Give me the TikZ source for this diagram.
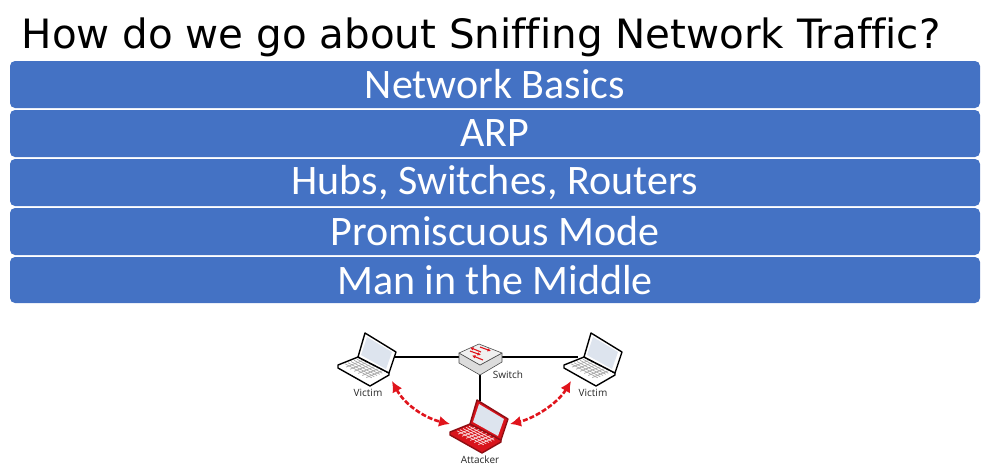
\documentclass[tikz,border=0pt]{standalone}
\usepackage{fontspec}
\setmainfont{Carlito}
\newfontfamily\titlefont[Ligatures=NoCommon]{DejaVu Sans}
\newfontfamily\smallfont{Open Sans}
\usetikzlibrary{arrows.meta,shapes.geometric,calc}
\definecolor{barblue}{HTML}{4472C4}
\definecolor{atkred}{HTML}{D8141C}
\definecolor{atkdark}{HTML}{8E0E14}
\definecolor{arrowred}{HTML}{E0141C}
\definecolor{screenblue}{HTML}{DDE4EE}
\definecolor{switchgrey}{HTML}{DCDCDC}
\definecolor{keygrey}{HTML}{A8A8A8}
\tikzset{
  x=1pt,y=-1pt,
  barbox/.style={fill=barblue,draw=none,rounded corners=5pt,minimum width=970pt,minimum height=47pt,inner sep=0pt,text=white,font=\fontsize{42}{42}\selectfont,anchor=center},
  titletext/.style={font=\titlefont\fontsize{40.4}{40}\selectfont,text=black,inner sep=0pt},
  smalltext/.style={font=\smallfont\fontsize{10}{10}\selectfont,text=black!85,inner sep=0pt},
  wire/.style={draw=black,line width=1.5pt},
  atklink/.style={draw=arrowred,line width=2.6pt,dash pattern=on 5pt off 2pt,{Latex[length=11pt,width=11pt]}-{Latex[length=11pt,width=11pt]}},
  switcharrow/.style={arrowred,line width=1.1pt,-{Latex[length=3.5pt,width=3.5pt]}},
  pics/laptop/.style args={#1/#2/#3/#4}{code={
    \filldraw[draw=#1,fill=#2,line width=1.4pt,line join=round] (-27,32) -- (-7,24) -- (24,40) -- (24,42) -- (5,53) -- (-27,35) -- cycle;
    \foreach \t in {0.17,0.33,0.5,0.67,0.83}{
      \draw[#3,line width=0.7pt] ($(-23,32)!\t!(-5,25)$) -- ($(4,46)!\t!(20,39)$);
    }
    \foreach \t in {0.15,0.3,0.45,0.6,0.75,0.9}{
      \draw[#3,line width=0.7pt] ($(-23,32)!\t!(4,46)$) -- ($(-5,25)!\t!(20,39)$);
    }
    \filldraw[draw=#1,fill=#4,line width=1.4pt,line join=round] (0,0) -- (31,19) -- (24,40) -- (-7,24) -- cycle;
    \fill[screenblue] (2,4) -- (27,19) -- (21,36) -- (-4,22) -- cycle;
  }}
}
\begin{document}
\begin{tikzpicture}
\useasboundingbox (0,0) rectangle (999,472);
\node[titletext,anchor=base] (title) at (481,48) {How do we go about Sniffing Network Traffic?};
\node[barbox] (b1) at (495,84.5) {Network Basics};
\node[barbox] (b2) at (495,133.5) {ARP};
\node[barbox] (b3) at (495,182.5) {Hubs, Switches, Routers};
\node[barbox] (b4) at (495,231.5) {Promiscuous Mode};
\node[barbox,minimum height=46pt] (b5) at (495,280) {Man in the Middle};

\coordinate (lv) at (393,357);
\coordinate (rv) at (578,357);
\coordinate (swl) at (459,357);
\coordinate (swr) at (502,357);
\coordinate (swb) at (480,375);
\coordinate (atk) at (480,401);
\draw[wire] (lv) -- (swl);
\draw[wire] (swr) -- (rv);
\draw[wire,line width=1.1pt] (swb) -- (atk);

\filldraw[draw=black!70,fill=switchgrey,line width=0.6pt,line join=round] (459,353) -- (480,365) -- (502,353) -- (502,362) -- (480,375) -- (459,363) -- cycle;
\filldraw[draw=black!70,fill=white!94!black,line width=0.6pt,line join=round] (459,353) -- (479,344) -- (502,353) -- (480,365) -- cycle;
\draw[switcharrow] (480,347) -- (491,351);
\draw[switcharrow] (481,352) -- (470,347.5);
\draw[switcharrow] (470,351) -- (481,355);
\draw[switcharrow] (483,360) -- (472,355.5);

\pic at (365,333) {laptop=black/white/keygrey/white};
\pic at (591,333) {laptop=black/white/keygrey/white};
\pic at (477,400) {laptop=atkdark/atkred/white!85!atkred/atkred};

\coordinate (a1) at (392,381);
\coordinate (a2) at (450,424);
\coordinate (a3) at (571,381);
\coordinate (a4) at (510,424);
\draw[atklink] (a1) .. controls (405,405) and (425,418) .. (a2);
\draw[atklink] (a3) .. controls (558,403) and (535,418) .. (a4);

\node[smalltext] (vl) at (368,393) {Victim};
\node[smalltext] (sw) at (508,375) {Switch};
\node[smalltext] (vr) at (593,393) {Victim};
\node[smalltext] (at) at (480,460) {Attacker};
\end{tikzpicture}
\end{document}
